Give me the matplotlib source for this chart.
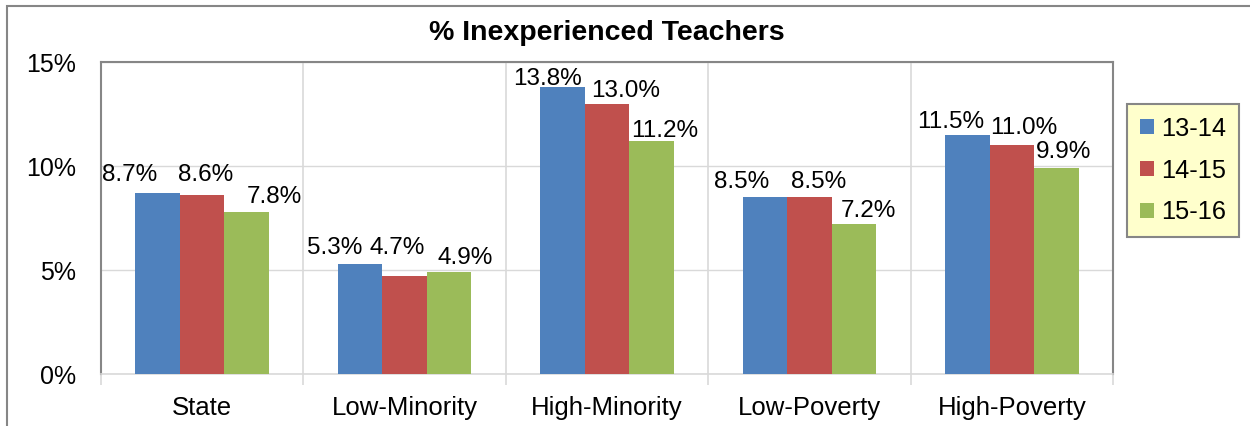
import numpy as np
import matplotlib
matplotlib.use("Agg")
import matplotlib.pyplot as plt
from matplotlib.patches import Rectangle
from matplotlib.ticker import FuncFormatter

plt.rcParams["font.family"] = ["Liberation Sans", "DejaVu Sans"]

categories = ["State", "Low-Minority", "High-Minority", "Low-Poverty", "High-Poverty"]
years = ["13-14", "14-15", "15-16"]
pct_13_14 = [8.7, 5.3, 13.8, 8.5, 11.5]
pct_14_15 = [8.6, 4.7, 13.0, 8.5, 11.0]
pct_15_16 = [7.8, 4.9, 11.2, 7.2, 9.9]
colors = ["#4F81BD", "#C0504D", "#9BBB59"]

# per-label nudges (pixels) so neighbouring value labels don't collide
label_dx = [[-28, -25, -15, -23, -17],
            [3, -7, 19, 9, 12],
            [28, 16, 13, 15, 7]]
label_dy = [[12, 10, 2, 9, 7],
            [14, 22, 7, 9, 11],
            [9, 8, 4, 7, 10]]

fig = plt.figure(figsize=(12.5, 4.26), dpi=100)
ax = fig.add_axes([101 / 1250, 1 - 374 / 426, 1012 / 1250, 312 / 426])

# outer chart border
fig.patches.append(Rectangle((7 / 1250, -0.1), 1.2, 1 - 6 / 426 + 0.1,
                             transform=fig.transFigure, fill=False,
                             edgecolor="#868686", lw=1.5, zorder=0))

x = np.arange(len(categories))
width = 0.22
series = [pct_13_14, pct_14_15, pct_15_16]
for i, (vals, c, lab) in enumerate(zip(series, colors, years)):
    pos = x + (i - 1) * width
    ax.bar(pos, vals, width, color=c, label=lab, zorder=3)
    for j, (px, v) in enumerate(zip(pos, vals)):
        ax.annotate(f"{v:.1f}%", (px, v), xytext=(label_dx[i][j], label_dy[i][j]),
                    textcoords="offset pixels", ha="center", va="baseline",
                    fontsize=17.5, color="black", zorder=4, annotation_clip=False)

ax.set_xlim(-0.5, len(categories) - 0.5)
ax.set_ylim(0, 15)
ax.set_yticks([0, 5, 10, 15])
ax.yaxis.set_major_formatter(FuncFormatter(lambda v, _: f"{v:.0f}%"))
ax.grid(axis="y", color="#D9D9D9", lw=1, zorder=0)

# category separators
ax.set_xticks(x)
ax.set_xticklabels(categories, fontsize=18.5)
ax.set_xticks(np.arange(len(categories) + 1) - 0.5, minor=True)
ax.grid(axis="x", which="minor", color="#D9D9D9", lw=1.2, zorder=0)
ax.tick_params(axis="x", which="major", length=0, pad=16)
ax.tick_params(axis="x", which="minor", length=8, color="#D9D9D9", width=1.2)
ax.tick_params(axis="y", length=0, labelsize=18, pad=18)

for side in ["top", "right", "left"]:
    ax.spines[side].set_color("#868686")
    ax.spines[side].set_linewidth(1.5)
ax.spines["bottom"].set_color("#D9D9D9")
ax.spines["bottom"].set_linewidth(1.2)

ax.set_title("% Inexperienced Teachers", fontsize=20.5, fontweight="bold", pad=16)

leg = fig.legend(loc="upper left", bbox_to_anchor=(1127 / 1250, 1 - 104 / 426),
                 fontsize=18.3, frameon=True, fancybox=False,
                 handlelength=0.55, handleheight=0.55, handletextpad=0.3,
                 labelspacing=0.7, borderpad=0.5, borderaxespad=0)
leg.get_frame().set_facecolor("#FFFFCC")
leg.get_frame().set_edgecolor("#868686")
leg.get_frame().set_linewidth(1.5)
leg.get_frame().set_alpha(1)

fig.savefig("out.png", dpi=100)
